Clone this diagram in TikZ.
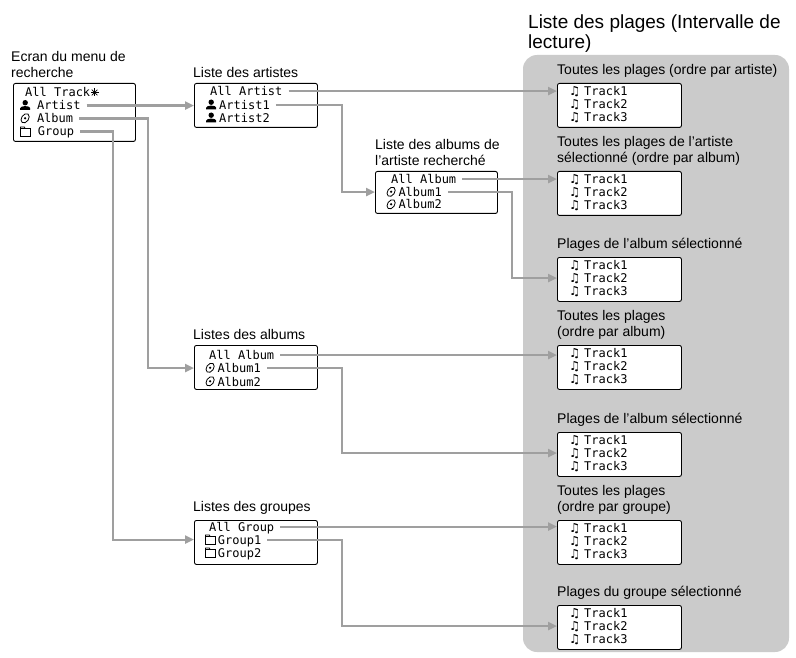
\documentclass[tikz,border=0pt]{standalone}
\usepackage{fontspec}
\setmainfont{Liberation Sans}
\newfontfamily\lcdfont{DejaVu Sans Mono}
\newfontfamily\symfont{DejaVu Sans}
\usetikzlibrary{positioning,arrows.meta}

\definecolor{panelgray}{HTML}{CBCBCB}
\definecolor{linkgray}{HTML}{9F9F9F}

% pictograms of the player display
\newcommand{\artisticon}{\tikz[baseline=0pt,x=1pt,y=1pt]{\fill (5,7.3) circle (2.7);
  \fill (0,0) -- (0,1.8) .. controls (0,4.6) and (10,4.6) .. (10,1.8) -- (10,0) -- cycle;}}
\newcommand{\albumicon}{\tikz[baseline=0pt,x=1pt,y=1pt]{\draw[line width=0.8pt,shift={(5,4.7)},rotate=55] (0,0) ellipse (5.1 and 3.5);
  \fill (5,4.7) circle (1.3);}}
\newcommand{\groupicon}{\tikz[baseline=0pt,x=1pt,y=1pt,line width=0.7pt]{\draw (0,0) rectangle (10,7.2);
  \draw (0,7.2) -- (0,9) -- (3.8,9) -- (4.8,7.2);}}
\newcommand{\staricon}{\tikz[baseline=-4.5pt,x=1pt,y=1pt,line width=0.7pt]{\foreach \a in {0,45,90,135} \draw (\a:4) -- (\a+180:4);}}
\newcommand{\noteicon}{\makebox[15pt][l]{\symfont\fontsize{12.5}{12}\selectfont ♫}}

\begin{document}
\begin{tikzpicture}[x=1pt,y=-1pt,
  every node/.style={inner sep=0pt},
  caption/.style={font=\fontsize{14}{16}\selectfont, align=left},
  lcd/.style={draw, rounded corners=2pt, line width=0.9pt, fill=white,
    anchor=north west, minimum width=124pt, minimum height=44pt},
  item/.style={font=\lcdfont\fontsize{12}{12}\selectfont, anchor=base west,
    text height=8.8pt, text depth=0pt},
  link/.style={draw=linkgray, line width=2.2pt, -{Triangle[length=9pt,width=8pt]}}]
  \useasboundingbox (0,0) rectangle (796,658);

  % play range panel
  \fill[panelgray, rounded corners=14pt] (523,55) rectangle (789,652);
  \node[anchor=north west, font=\fontsize{19}{19.5}\selectfont, align=left] (title)
    at (528,15) {Liste des plages (Intervalle de\\lecture)};

  % search menu
  \node[lcd, minimum width=122pt, minimum height=58pt] (menu) at (13,83) {};
  \node[caption, above right=5pt and -2pt of menu.north west] {Ecran du menu de\\recherche};
  \node[item] (m-all) at (25,97) {All Track\staricon};
  \node[item] (m-artist) at (20,110) {\artisticon\hspace{7pt}Artist};
  \node[item] (m-album) at (20,123) {\albumicon\hspace{7pt}Album};
  \node[item] (m-group) at (20,136) {\groupicon\hspace{7pt}Group};

  % artists
  \node[lcd, minimum width=123pt] (artists) at (194,83) {};
  \node[caption, above right=5pt and -1pt of artists.north west] {Liste des artistes};
  \node[item] (ar-all) at (210,95.5) {All Artist};
  \node[item] (ar-1) at (206,109.5) {\artisticon\hspace{3pt}Artist1};
  \node[item] (ar-2) at (206,122.5) {\artisticon\hspace{3pt}Artist2};

  % albums of the artist
  \node[lcd, minimum width=122pt, minimum height=42pt] (artalbums) at (375,171) {};
  \node[caption, above right=5pt and 0pt of artalbums.north west] {Liste des albums de\\l’artiste recherché};
  \node[item] (aa-all) at (391,183.5) {All Album};
  \node[item] (aa-1) at (386,196.5) {\albumicon\hspace{2.5pt}Album1};
  \node[item] (aa-2) at (386,209) {\albumicon\hspace{2.5pt}Album2};

  % albums
  \node[lcd, minimum width=123pt] (albums) at (194,345) {};
  \node[caption, above right=5pt and -1pt of albums.north west] {Listes des albums};
  \node[item] (al-all) at (209,359.5) {All Album};
  \node[item] (al-1) at (205,372.5) {\albumicon\hspace{2.5pt}Album1};
  \node[item] (al-2) at (205,386) {\albumicon\hspace{2.5pt}Album2};

  % groups
  \node[lcd, minimum width=123pt] (groups) at (194,520) {};
  \node[caption, above right=5pt and -1pt of groups.north west] {Listes des groupes};
  \node[item] (gr-all) at (209,531) {All Group};
  \node[item] (gr-1) at (205,544) {\groupicon\hspace{2pt}Group1};
  \node[item] (gr-2) at (205,557) {\groupicon\hspace{2pt}Group2};

  % track lists
  \foreach \i/\y in {1/83,2/171,3/257,4/345,5/432,6/520,7/605}{
    \node[lcd] (t\i) at (557,\y) {};
    \foreach \k in {1,2,3}
      \node[item] (t\i-\k) at (569,{\y-0.5+13*\k}) {\noteicon Track\k};
  }
  \node[caption, above right=5pt and 0pt of t1.north west] {Toutes les plages (ordre par artiste)};
  \node[caption, above right=5pt and 0pt of t2.north west] {Toutes les plages de l’artiste\\sélectionné (ordre par album)};
  \node[caption, above right=5pt and 0pt of t3.north west] {Plages de l’album sélectionné};
  \node[caption, above right=5pt and 0pt of t4.north west] {Toutes les plages\\(ordre par album)};
  \node[caption, above right=5pt and 0pt of t5.north west] {Plages de l’album sélectionné};
  \node[caption, above right=5pt and 0pt of t6.north west] {Toutes les plages\\(ordre par groupe)};
  \node[caption, above right=5pt and 0pt of t7.north west] {Plages du groupe sélectionné};

  % connectors
  \coordinate (groupdrop) at (113,0);
  \coordinate (albumdrop) at (148,0);
  \coordinate (listdrop) at (342,0);
  \coordinate (artalbumdrop) at (512,0);
  \draw[link] ([xshift=6pt]m-artist.east) -- (artists.west |- m-artist.east);
  \draw[link] ([xshift=6pt]m-album.east) -| (albumdrop |- al-1.west) -- (albums.west |- al-1.west);
  \draw[link] ([xshift=6pt]m-group.east) -| (groupdrop |- gr-1.west) -- (groups.west |- gr-1.west);
  \draw[link] ([xshift=6pt]ar-all.east) -- (t1.west |- ar-all.east);
  \draw[link] ([xshift=6pt]ar-1.east) -| (listdrop |- aa-1.west) -- (artalbums.west |- aa-1.west);
  \draw[link] ([xshift=6pt]aa-all.east) -- (t2.west |- aa-all.east);
  \draw[link] ([xshift=6pt]aa-1.east) -| (artalbumdrop |- t3-2.west) -- (t3.west |- t3-2.west);
  \draw[link] ([xshift=6pt]al-all.east) -- (t4.west |- al-all.east);
  \draw[link] ([xshift=6pt]al-1.east) -| (listdrop |- t5-2.west) -- (t5.west |- t5-2.west);
  \draw[link] ([xshift=6pt]gr-all.east) -- (t6.west |- gr-all.east);
  \draw[link] ([xshift=6pt]gr-1.east) -| (listdrop |- t7-2.west) -- (t7.west |- t7-2.west);
\end{tikzpicture}
\end{document}
